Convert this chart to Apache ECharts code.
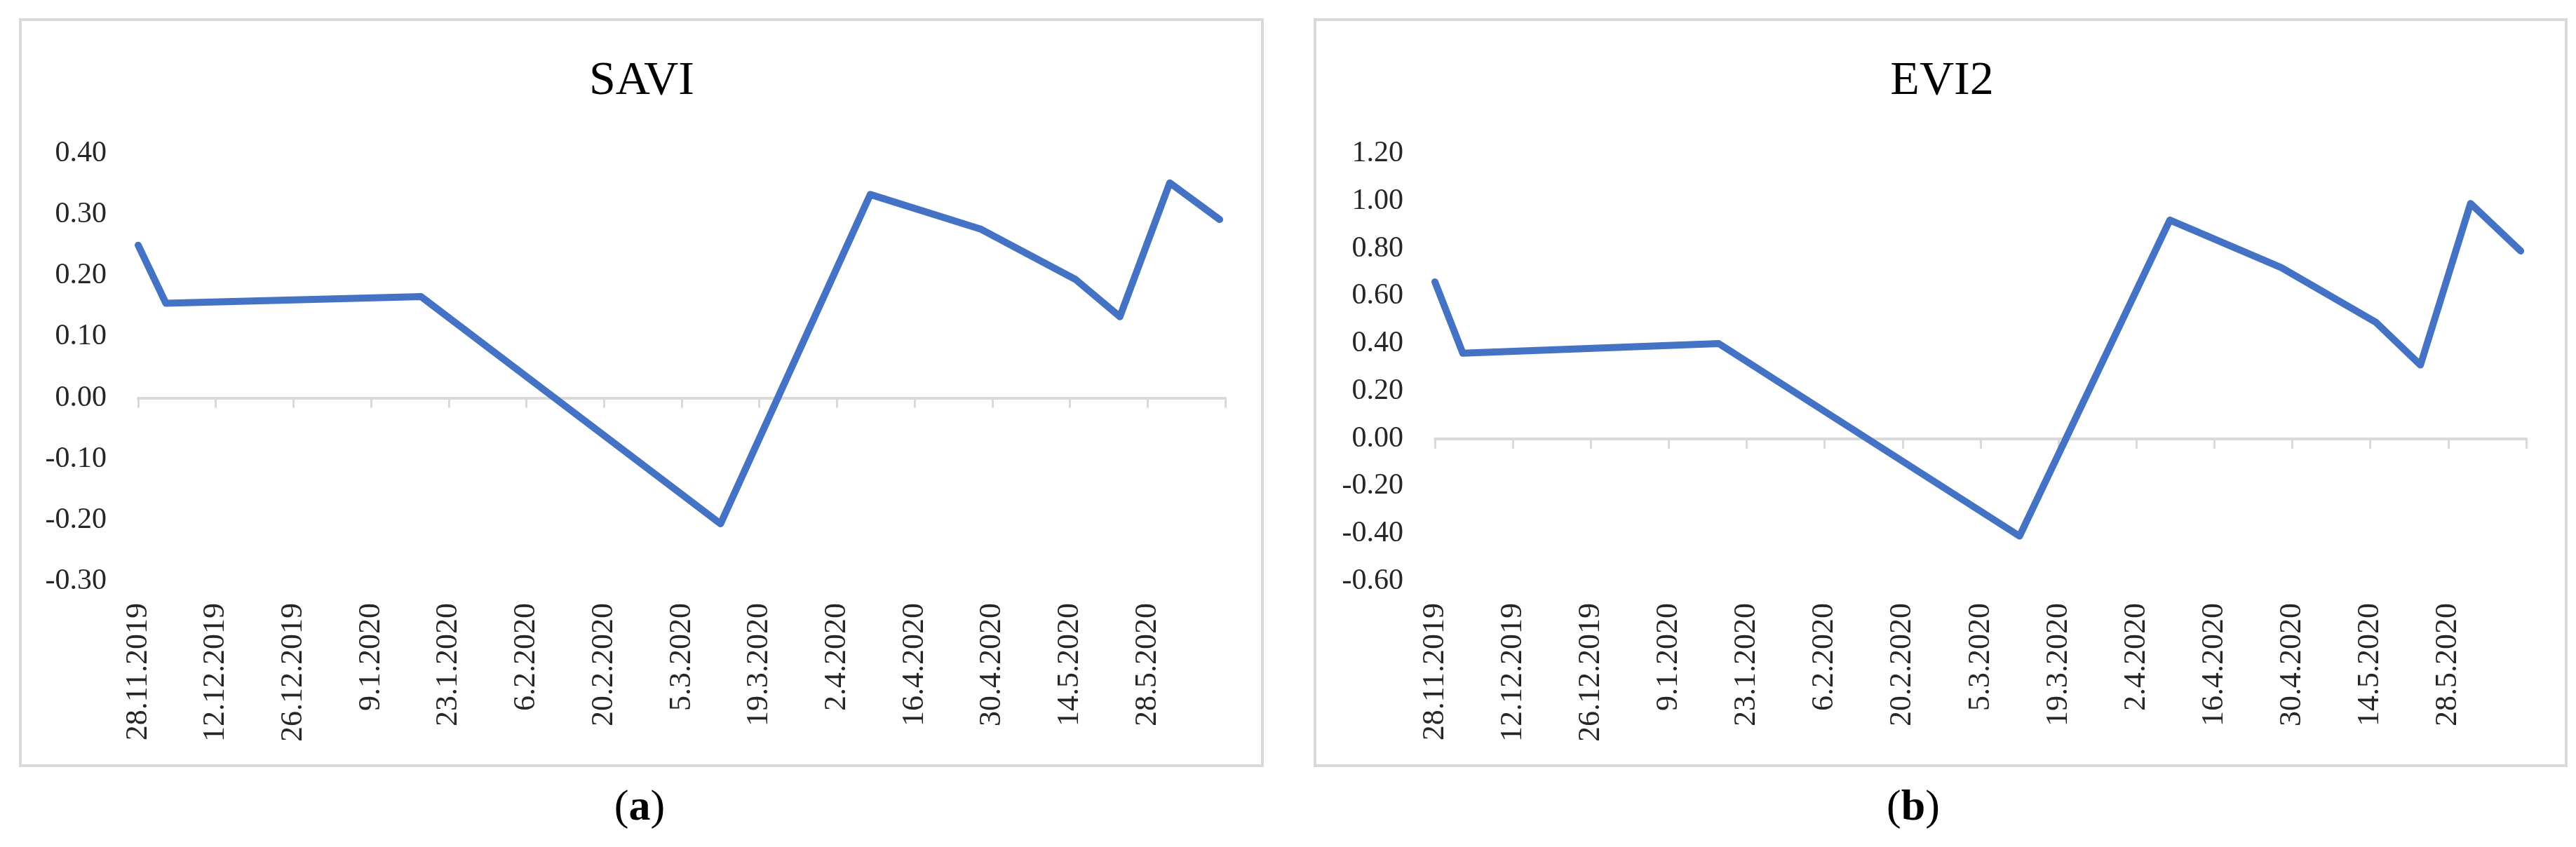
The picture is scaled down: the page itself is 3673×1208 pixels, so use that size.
<!DOCTYPE html>
<html>
<head>
<meta charset="utf-8">
<script src="https://cdn.jsdelivr.net/npm/echarts@6/dist/echarts.min.js"></script>
<style>
  html, body { margin: 0; padding: 0; background: #ffffff; }
  #chart { width: 3673px; height: 1208px; }
</style>
</head>
<body>
<div id="chart"></div>
<script>
// ---- data ----
const dates = ['28.11.2019', '3.12.2019', '18.1.2020', '12.3.2020', '8.4.2020',
               '28.4.2020', '15.5.2020', '23.5.2020', '1.6.2020', '10.6.2020'];
const saviValues = [0.25, 0.155, 0.166, -0.206, 0.333, 0.276, 0.194, 0.133, 0.352, 0.292];
const evi2Values = [0.66, 0.36, 0.40, -0.41, 0.92, 0.72, 0.49, 0.31, 0.99, 0.79];
const tickLabels = ['28.11.2019', '12.12.2019', '26.12.2019', '9.1.2020', '23.1.2020',
                    '6.2.2020', '20.2.2020', '5.3.2020', '19.3.2020', '2.4.2020',
                    '16.4.2020', '30.4.2020', '14.5.2020', '28.5.2020'];
const tickStepDays = 14;
const axisSpanDays = 196;
const saviAxis = { min: -0.3, max: 0.4, step: 0.1 };
const evi2Axis = { min: -0.6, max: 1.2, step: 0.2 };
const titles = ['SAVI', 'EVI2'];
const captions = ['a', 'b'];

// ---- helpers ----
function toUTC(s) {
  const p = s.split('.').map(Number);
  return Date.UTC(p[2], p[1] - 1, p[0]);
}
const t0 = toUTC(tickLabels[0]);
function dayOffset(s) { return Math.round((toUTC(s) - t0) / 86400000); }
const saviData = dates.map((d, i) => [dayOffset(d), saviValues[i]]);
const evi2Data = dates.map((d, i) => [dayOffset(d), evi2Values[i]]);

const SERIF = '"Liberation Serif", "DejaVu Serif", serif';
const GREY = '#d9d9d9';
const TEXT = '#262626';
const BLUE = '#4472C4';

function yFmt(v) {
  if (Math.abs(v) < 1e-9) return '0.00';
  return v.toFixed(2);
}
function xFmt(v) {
  const idx = Math.round(v / tickStepDays);
  return tickLabels[idx] !== undefined ? tickLabels[idx] : '';
}

const grids = [
  { left: 197, top: 219, width: 1550, height: 610 },
  { left: 2046, top: 219, width: 1556, height: 610 }
];

function zeroAxis(gi) {
  return {
    type: 'value', gridIndex: gi, min: 0, max: axisSpanDays, interval: tickStepDays,
    axisLine: { show: true, onZero: true, lineStyle: { color: GREY, width: 4 } },
    axisTick: { show: true, length: 14, lineStyle: { color: GREY, width: 3 } },
    axisLabel: { show: false },
    splitLine: { show: false }
  };
}
function labelAxis(gi) {
  return {
    type: 'value', gridIndex: gi, position: 'bottom', min: 0, max: axisSpanDays, interval: tickStepDays,
    axisLine: { show: false, onZero: false },
    axisTick: { show: false },
    splitLine: { show: false },
    axisLabel: {
      show: true, rotate: 90, margin: 31, formatter: xFmt,
      fontFamily: SERIF, fontSize: 44, color: TEXT,
      showMinLabel: true, showMaxLabel: true, hideOverlap: false
    }
  };
}
function yAxis(gi, cfg) {
  return {
    type: 'value', gridIndex: gi, min: cfg.min, max: cfg.max, interval: cfg.step,
    axisLine: { show: false }, axisTick: { show: false }, splitLine: { show: false },
    axisLabel: { formatter: yFmt, margin: 45, fontFamily: SERIF, fontSize: 42, color: TEXT }
  };
}
function lineSeries(xi, yi, data) {
  return {
    type: 'line', xAxisIndex: xi, yAxisIndex: yi, data: data,
    showSymbol: false, symbol: 'none', animation: false,
    lineStyle: { color: BLUE, width: 10, cap: 'round', join: 'round' }
  };
}

const panels = [
  { x: 29, y: 28, w: 1771, h: 1064, titleX: 915, capX: 912 },
  { x: 1875, y: 28, w: 1784, h: 1064, titleX: 2769, capX: 2728 }
];

const graphic = [];
panels.forEach((p, i) => {
  graphic.push({
    type: 'rect', silent: true,
    shape: { x: p.x, y: p.y, width: p.w, height: p.h },
    style: { fill: 'none', stroke: GREY, lineWidth: 4 }
  });
  graphic.push({
    type: 'text', silent: true,
    style: {
      x: p.titleX, y: 116, text: titles[i], align: 'center', verticalAlign: 'middle',
      fontFamily: SERIF, fontSize: 68, fill: '#000000'
    }
  });
  graphic.push({
    type: 'text', silent: true,
    style: {
      x: p.capX, y: 1153, text: '({b|' + captions[i] + '})', align: 'center', verticalAlign: 'middle',
      fontFamily: SERIF, fontSize: 62, fill: '#000000',
      rich: { b: { fontFamily: SERIF, fontSize: 62, fontWeight: 'bold', fill: '#000000' } }
    }
  });
});

const chart = echarts.init(document.getElementById('chart'), null, { renderer: 'canvas' });
chart.setOption({
  backgroundColor: '#ffffff',
  animation: false,
  grid: grids,
  xAxis: [zeroAxis(0), labelAxis(0), zeroAxis(1), labelAxis(1)],
  yAxis: [yAxis(0, saviAxis), yAxis(1, evi2Axis)],
  series: [lineSeries(0, 0, saviData), lineSeries(2, 1, evi2Data)],
  graphic: graphic
});
</script>
</body>
</html>
